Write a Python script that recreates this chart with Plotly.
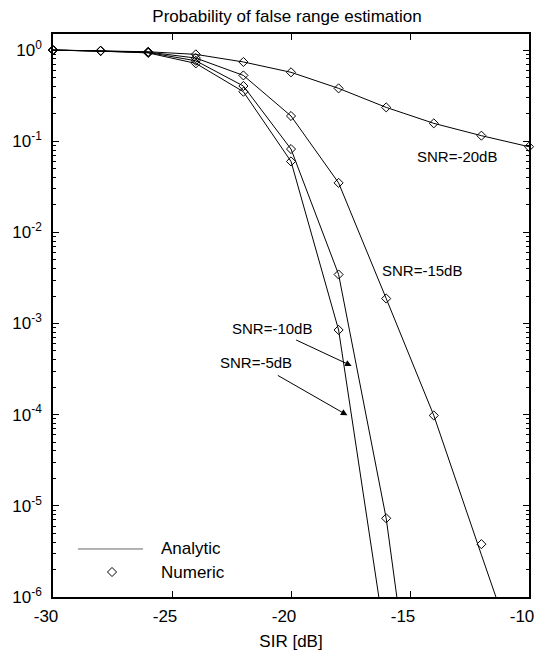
import plotly.graph_objects as go
import math

# ---------------- data ----------------
sir_db = [-30, -28, -26, -24, -22, -20, -18, -16, -14, -12, -10]

# analytic curves (line)
analytic_snr_m20 = [1.0, 0.983, 0.958, 0.897, 0.74, 0.57, 0.38, 0.235, 0.157, 0.115, 0.087]
analytic_snr_m15 = [1.0, 0.98, 0.95, 0.817, 0.527, 0.189, 0.0349, 0.00188, 9.8e-5, 2.9e-6, 8.9e-8]
analytic_snr_m10 = [1.0, 0.978, 0.94, 0.763, 0.403, 0.082, 0.00345, 7.3e-6, 1.0e-9, None, None]
analytic_snr_m5 = [1.0, 0.975, 0.93, 0.714, 0.349, 0.060, 0.00085, 2.5e-7, 1.0e-10, None, None]

# numeric results (markers)
numeric_snr_m20 = [1.0, 0.983, 0.958, 0.897, 0.74, 0.57, 0.38, 0.235, 0.157, 0.115, 0.087]
numeric_snr_m15 = [1.0, 0.98, 0.95, 0.817, 0.527, 0.189, 0.0349, 0.00188, 9.8e-5, 3.8e-6, None]
numeric_snr_m10 = [1.0, 0.978, 0.94, 0.763, 0.403, 0.082, 0.00345, 7.3e-6, None, None, None]
numeric_snr_m5 = [1.0, 0.975, 0.93, 0.714, 0.349, 0.060, 0.00085, None, None, None, None]

x_ticks = [-30, -25, -20, -15, -10]
x_tick_labels = ["-30", "-25", "-20", "-15", "-10"]
y_tick_vals = [1e-6, 1e-5, 1e-4, 1e-3, 1e-2, 1e-1, 1e0]
y_tick_labels = ["10<sup>-6</sup>", "10<sup>-5</sup>", "10<sup>-4</sup>", "10<sup>-3</sup>",
                 "10<sup>-2</sup>", "10<sup>-1</sup>", "10<sup>0</sup>"]

title_text = "Probability of false range estimation"
x_title = "SIR [dB]"
legend_labels = ["Analytic", "Numeric"]

# ---------------- styling ----------------
FONT = "Liberation Sans, Arial, Helvetica, sans-serif"
W, H = 536, 651
ML, MR, MT, MB = 53, 7, 34, 54

fig = go.Figure()

analytic = [analytic_snr_m20, analytic_snr_m15, analytic_snr_m10, analytic_snr_m5]
numeric = [numeric_snr_m20, numeric_snr_m15, numeric_snr_m10, numeric_snr_m5]

for a in analytic:
    fig.add_trace(go.Scatter(x=sir_db, y=a, mode="lines",
                             line=dict(color="black", width=1),
                             showlegend=False, connectgaps=False))
for n in numeric:
    fig.add_trace(go.Scatter(x=sir_db, y=n, mode="markers", cliponaxis=False,
                             marker=dict(symbol="diamond-open", size=7, color="black",
                                         line=dict(color="black", width=1)),
                             showlegend=False))

# custom legend key (marker) on hidden overlay axes
LEG = dict(x0=0.0525, x1=0.189, xm=0.124, xt=0.2227, y_line=0.0853, y_mark=0.0444)
fig.add_trace(go.Scatter(x=[LEG["xm"]], y=[LEG["y_mark"]], mode="markers",
                         marker=dict(symbol="diamond-open", size=7, color="black",
                                     line=dict(color="black", width=1)),
                         xaxis="x2", yaxis="y2", showlegend=False, hoverinfo="skip"))

fig.add_shape(type="line", xref="paper", yref="paper",
              x0=LEG["x0"], x1=LEG["x1"], y0=LEG["y_line"], y1=LEG["y_line"],
              line=dict(color="#666666", width=1))

annotations = [
    dict(xref="paper", yref="paper", x=LEG["xt"], y=LEG["y_line"], text=legend_labels[0],
         showarrow=False, xanchor="left", yanchor="middle", font=dict(size=17)),
    dict(xref="paper", yref="paper", x=LEG["xt"], y=LEG["y_mark"], text=legend_labels[1],
         showarrow=False, xanchor="left", yanchor="middle", font=dict(size=17)),
    dict(x=-13.03, y=-1.163, xref="x", yref="y", text="SNR=-20dB", showarrow=False,
         font=dict(size=15)),
    dict(x=-14.51, y=-2.42, xref="x", yref="y", text="SNR=-15dB", showarrow=False,
         font=dict(size=15)),
    dict(x=-17.45, y=-3.465, xref="x", yref="y", ax=-20.80, ay=-3.057, axref="x", ayref="y",
         text="SNR=-10dB", showarrow=True, arrowhead=2, arrowsize=1.3, arrowwidth=1,
         arrowcolor="black", startstandoff=3, font=dict(size=15)),
    dict(x=-17.63, y=-4.007, xref="x", yref="y", ax=-21.47, ay=-3.432, axref="x", ayref="y",
         text="SNR=-5dB", showarrow=True, arrowhead=2, arrowsize=1.3, arrowwidth=1,
         arrowcolor="black", startstandoff=5, font=dict(size=15)),
]

fig.update_layout(
    width=W, height=H,
    margin=dict(l=ML, r=MR, t=MT, b=MB, autoexpand=False),
    paper_bgcolor="white", plot_bgcolor="white",
    font=dict(family=FONT, size=17, color="black"),
    title=dict(text=title_text, x=287 / W, xanchor="center", xref="container",
               y=1 - 16 / H, yref="container", yanchor="middle",
               font=dict(size=17)),
    showlegend=False,
    hovermode=False,
    annotations=annotations,
    xaxis=dict(range=[-30, -10], tickmode="array", tickvals=x_ticks, ticktext=x_tick_labels,
               ticks="inside", ticklen=6, tickwidth=1, tickcolor="black",
               showline=True, linewidth=1.5, linecolor="black", mirror="ticks",
               showgrid=False, zeroline=False, automargin=False,
               ticklabeloverflow="allow", ticklabelshift=-7, ticklabelstandoff=3,
               title=dict(text=x_title, standoff=10, font=dict(size=17))),
    yaxis=dict(type="log", range=[-6, math.log10(1.5)], tickmode="array",
               tickvals=y_tick_vals, ticktext=y_tick_labels,
               ticks="inside", ticklen=6, tickwidth=1, tickcolor="black",
               showline=True, linewidth=1.5, linecolor="black", mirror="ticks",
               showgrid=False, zeroline=False, ticklabelstandoff=6, automargin=False,
               ticklabeloverflow="allow",
               minor=dict(ticks="inside", ticklen=3, tickcolor="black", dtick="D1",
                          showgrid=False)),
    xaxis2=dict(overlaying="x", range=[0, 1], visible=False, fixedrange=True),
    yaxis2=dict(overlaying="y", range=[0, 1], visible=False, fixedrange=True),
)

fig.write_html("out.html", config={"displayModeBar": False},
               post_script="document.body.style.margin='0px';")
